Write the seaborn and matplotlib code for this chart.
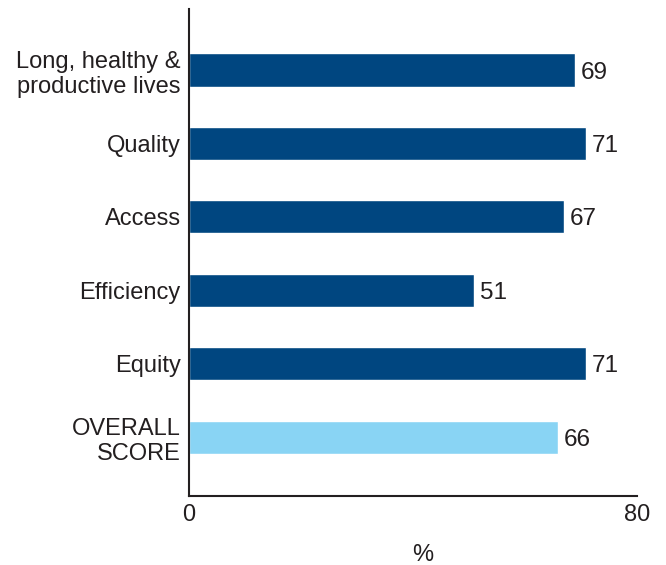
import seaborn as sns
import matplotlib.pyplot as plt
import pandas as pd

categories = ['Long, healthy &\nproductive lives', 'Quality', 'Access',
              'Efficiency', 'Equity', 'OVERALL\nSCORE']
scores = [69, 71, 67, 51, 71, 66]
colors = ['#004680', '#004680', '#004680', '#004680', '#004680', '#89d4f4']

df = pd.DataFrame({'category': categories, 'score': scores})

sns.set_style('white')
plt.rcParams['font.family'] = ['Liberation Sans', 'DejaVu Sans']

fig = plt.figure(figsize=(6.66, 5.65), dpi=100)
ax = fig.add_axes([0.284, 0.122, 0.672, 0.862])

sns.barplot(data=df, y='category', x='score', hue='category', palette=colors,
            legend=False, width=0.45, saturation=1, ax=ax)

# value labels next to bars
for i, v in enumerate(scores):
    ax.text(v + 1, i, str(v), va='center_baseline', ha='left', fontsize=17.5, color='#231f20')

ax.set_xlim(0, 80)
ax.set_ylim(5.8, -0.83)
ax.set_xticks([0, 80])
ax.tick_params(axis='both', length=0, labelsize=17, colors='#231f20', pad=6)
ax.set_ylabel('')
ax.set_xlabel('')
fig.text(0.634, 1 - 555 / 565, '%', ha='center', va='center', fontsize=17, color='#231f20')

for s in ['top', 'right']:
    ax.spines[s].set_visible(False)
for s in ['left', 'bottom']:
    ax.spines[s].set_color('#231f20')
    ax.spines[s].set_linewidth(1.5)

fig.savefig('out.png', dpi=100)
